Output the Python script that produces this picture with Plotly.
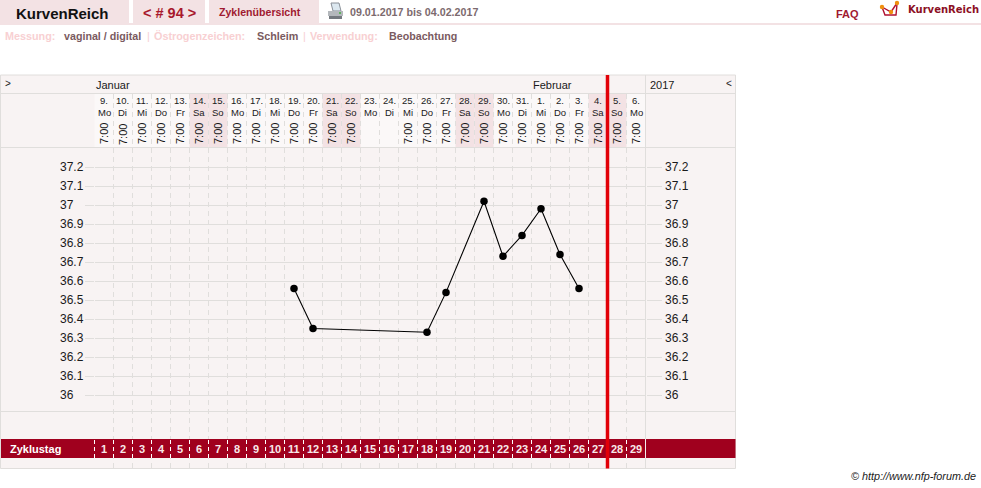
import plotly.graph_objects as go

W, H = 981, 488

# Chart data
cycle_days = list(range(1, 30))
temperatures = [None, None, None, None, None, None, None, None, None, None,
                36.56, 36.35, None, None, None, None, None, 36.33, 36.54, None,
                37.02, 36.73, 36.84, 36.98, 36.74, 36.56, None, None, None]
date_labels = ["9.", "10.", "11.", "12.", "13.", "14.", "15.", "16.", "17.", "18.",
               "19.", "20.", "21.", "22.", "23.", "24.", "25.", "26.", "27.", "28.",
               "29.", "30.", "31.", "1.", "2.", "3.", "4.", "5.", "6."]
weekday_labels = ["Mo", "Di", "Mi", "Do", "Fr", "Sa", "So"] * 4 + ["Mo"]
time_labels = ["7:00"] * 14 + ["", ""] + ["7:00"] * 13
temp_ticks = [36, 36.1, 36.2, 36.3, 36.4, 36.5, 36.6, 36.7, 36.8, 36.9, 37, 37.1, 37.2]

INK = "#1a1a1a"
PANEL = "#f8f3f3"
PINK = "#f3e2e4"
RULE = "#e0dedc"
DARK_RED = "#a0001e"
FONT = "Liberation Sans"


def px(x):
    return x / W


def py(y):
    return 1 - y / H


shapes = []
notes = []


def box(x0, y0, x1, y1, fill, layer="below"):
    shapes.append(dict(type="rect", xref="paper", yref="paper", x0=px(x0), x1=px(x1),
                       y0=py(y1), y1=py(y0), fillcolor=fill, line_width=0, layer=layer))


def rule(x0, y0, x1, y1, color=RULE, width=1, dash="solid", layer="below"):
    shapes.append(dict(type="line", xref="paper", yref="paper", x0=px(x0), x1=px(x1),
                       y0=py(y1), y1=py(y0), line=dict(color=color, width=width, dash=dash),
                       layer=layer))


def poly(points, fill=None, color=None, width=1):
    path = "M " + " L ".join(f"{px(x)} {py(y)}" for x, y in points)
    if fill:
        path += " Z"
    shapes.append(dict(type="path", xref="paper", yref="paper", path=path,
                       fillcolor=fill, line=dict(color=color, width=width if color else 0),
                       layer="above"))


def label(x, y, text, size=11, color=INK, bold=False, anchor="left", family=FONT,
          rotate=0, italic=False):
    if bold:
        text = f"<b>{text}</b>"
    if italic:
        text = f"<i>{text}</i>"
    notes.append(dict(xref="paper", yref="paper", x=px(x), y=py(y), text=text,
                      showarrow=False, xanchor=anchor, yanchor="middle", textangle=rotate,
                      font=dict(size=size, color=color, family=family),
                      borderpad=0, borderwidth=0))


# Navigation strip
for x0, x1 in [(0, 129), (133, 205), (209, 319)]:
    box(x0, 0, x1, 23, PINK)
box(0, 23, W, 25, PINK)
label(16, 13, "KurvenReich", 15, "#111111", bold=True)
label(143, 13, "&lt; # 94 &gt;", 14.5, "#a8182c", bold=True)
label(219, 12, "Zyklenübersicht", 10.6, "#a01a30", bold=True)
label(350, 12, "09.01.2017 bis 04.02.2017", 10.7, "#7c6a6e", bold=True)
label(836, 14, "FAQ", 11, "#a01a30", bold=True)
label(908, 10, "KurvenReich", 10, "#8c1024", bold=True, family="DejaVu Sans")

# Printer icon
poly([(331, 3), (339, 3), (341, 11), (333, 11)], fill="#dce8f0", color="#8a9098")
box(328, 11, 343, 16, "#b4b8bc", layer="above")
box(329, 16, 342, 19, "#74797f", layer="above")
box(339, 12, 341, 14, "#60b060", layer="above")

# Logo glyph
poly([(882, 7), (885, 15), (896, 15), (897, 4)], color="#b01030", width=1.4)
poly([(882, 7), (891, 12), (897, 3)], color="#b01030", width=1.4)
for cx, cy in [(882, 7), (891, 12), (897, 3)]:
    shapes.append(dict(type="circle", xref="paper", yref="paper",
                       x0=px(cx - 2.2), x1=px(cx + 2.2), y0=py(cy + 2.2), y1=py(cy - 2.2),
                       fillcolor="#f09010", line_width=0, layer="above"))

# Settings line
label(5, 36, "Messung:", 10.8, "#f8d0d2", bold=True)
label(64, 36, "vaginal / digital", 10.7, "#7a5a60", bold=True)
label(147, 36, "|", 11, "#f8d0d2")
label(154, 36, "Östrogenzeichen:", 10.8, "#f8d0d2", bold=True)
label(257, 36, "Schleim", 10.8, "#7a5a60", bold=True)
label(303, 36, "|", 11, "#f8d0d2")
label(310, 36, "Verwendung:", 10.8, "#f8d0d2", bold=True)
label(389, 36, "Beobachtung", 10.7, "#7a5a60", bold=True)

# Panel, header and frame
box(0.5, 75, 735.5, 468.5, PANEL)
box(94.5, 94, 645.5, 147, "#fbf8f8")
for day, wd in zip(cycle_days, weekday_labels):
    x0 = 94.5 + 19 * (day - 1)
    if wd in ("Sa", "So"):
        box(x0, 94, x0 + 19, 147, PINK)

for y in [75, 93.5, 147.5, 411.5, 468.5]:
    rule(0.5, y, 735.5, y)
rule(0.5, 75, 0.5, 468.5)
rule(735.5, 75, 735.5, 468.5)
rule(645.5, 75, 645.5, 468.5)

# Cycle-day band
box(1, 439, 735.5, 458, DARK_RED, layer="above")
label(10, 449, "Zyklustag", 11, "white", bold=True)
for day in cycle_days:
    xb = 94.5 + 19 * (day - 1)
    rule(xb, 439, xb, 458, "white", 1, "4px,3px", layer="above")
    label(xb + 9.5, 449, str(day), 11, "#f8e8ea", bold=True, anchor="center")
rule(645.5, 439, 645.5, 458, "#f4eeee", 1, layer="above")

# Header texts
label(5, 83, "&gt;", 10)
label(96, 85, "Januar", 11)
label(533, 85, "Februar", 11)
label(650, 85, "2017", 11)
label(726, 83, "&lt;", 10)
for day, d, wd, t in zip(cycle_days, date_labels, weekday_labels, time_labels):
    cx = 94.5 + 19 * (day - 0.5)
    label(cx, 101, d, 9.5, INK, anchor="center")
    label(cx, 112, wd, 9.5, INK, anchor="center")
    if t:
        label(cx, 134, t, 11, INK, anchor="center", rotate=-90)

# Temperature labels on both sides
for t in temp_ticks:
    y = 167 + (37.2 - t) * 190
    label(60, y, f"{t:g}", 12, INK)
    label(665, y, f"{t:g}", 12, INK)

label(976, 476, "© http://www.nfp-forum.de", 10.8, INK, anchor="right", italic=True)

# Marker for the current day
rule(607.5, 75, 607.5, 468.5, "#e20008", 3.5, layer="above")

fig = go.Figure()
fig.add_trace(go.Scatter(
    x=cycle_days, y=temperatures, mode="lines+markers", connectgaps=True,
    line=dict(color="black", width=1.1), marker=dict(color="black", size=7.5),
    cliponaxis=False, hoverinfo="skip", showlegend=False,
))
# Second y axis only carries the tick stubs on the right
fig.add_trace(go.Scatter(x=[1], y=[36], yaxis="y2", opacity=0, showlegend=False,
                         hoverinfo="skip"))

top = 37.2 + (167 - 94) / 190
bottom = 37.2 - (468 - 167) / 190
y_dom = [py(468), py(94)]
fig.update_layout(
    width=W, height=H, margin=dict(l=0, r=0, t=0, b=0), autosize=False,
    paper_bgcolor="white", plot_bgcolor="rgba(0,0,0,0)",
    xaxis=dict(domain=[px(94.5), px(645.5)], range=[0.5, 29.5],
               tickvals=[d + 0.5 for d in range(0, 29)],
               showticklabels=False, showgrid=True, griddash="5px,4px",
               gridcolor=RULE, gridwidth=1, zeroline=False, showline=False, ticks=""),
    yaxis=dict(domain=y_dom, range=[bottom, top], tickvals=temp_ticks,
               showticklabels=False, showgrid=True, gridcolor=RULE, gridwidth=1,
               zeroline=False, showline=False, ticks="outside", ticklen=9,
               tickcolor=RULE, tickwidth=1),
    yaxis2=dict(domain=y_dom, range=[bottom, top], tickvals=temp_ticks, overlaying="y",
                side="right", anchor="x", showticklabels=False, showgrid=False,
                zeroline=False, showline=False, ticks="outside", ticklen=15,
                tickcolor=RULE, tickwidth=1),
    shapes=shapes, annotations=notes, showlegend=False,
)
fig.write_html("out.html", config=dict(displayModeBar=False))
